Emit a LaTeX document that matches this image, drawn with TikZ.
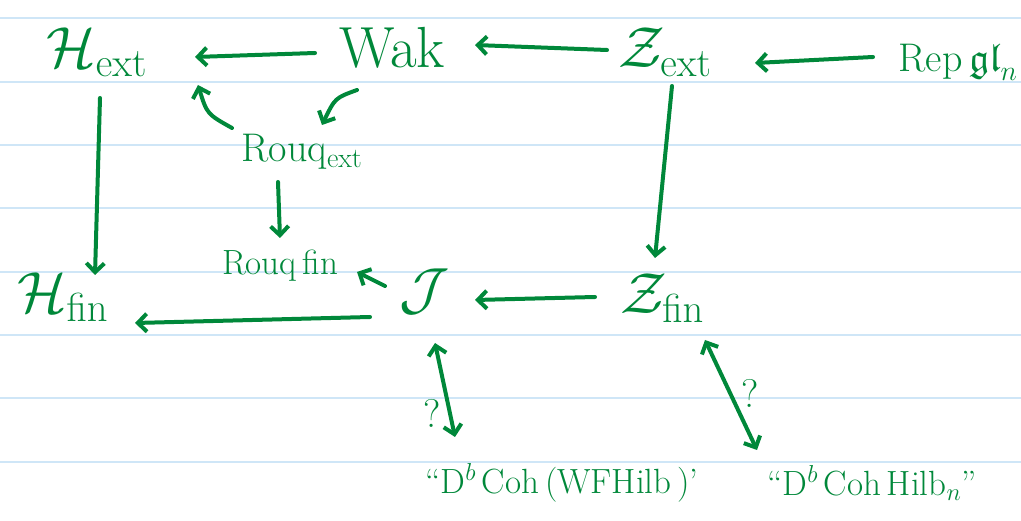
\RequirePackage{fix-cm}
\documentclass[tikz,border=0pt]{standalone}
\usepackage{amssymb}
\usetikzlibrary{arrows.meta,calc}
\definecolor{ink}{HTML}{00883A}
\definecolor{rule}{HTML}{CFE6F7}
\tikzset{
  lbl/.style={text=ink, inner sep=2pt},
  big/.style={lbl, font=\fontsize{58}{64}\selectfont},
  mid/.style={lbl, font=\fontsize{40}{44}\selectfont},
  small/.style={lbl, font=\fontsize{35}{40}\selectfont},
  arr/.style={draw=ink, line width=4pt, line cap=round, line join=round, -{Straight Barb[length=9pt,width=18pt,line width=4pt]}},
  barr/.style={draw=ink, line width=4pt, line cap=round, line join=round, {Straight Barb[length=9pt,width=18pt,line width=4pt]}-{Straight Barb[length=9pt,width=18pt,line width=4pt]}}
}
\begin{document}
\begin{tikzpicture}[x=1pt,y=-1pt]
\useasboundingbox (0,0) rectangle (1021,521);
\fill[white] (0,0) rectangle (1021,521);
\foreach \yy in {18,82,145,208,272,335,398,462}
  \draw[rule, line width=2pt] (0,\yy) -- (1021,\yy);

% nodes
\node[big] (Hext) at (97,52) {$\mathcal{H}_{\mathrm{ext}}$};
\node[big] (Wak) at (392,48) {Wak};
\node[big] (Zext) at (665,52) {$\mathcal{Z}_{\mathrm{ext}}$};
\node[mid] (Rep) at (958,62) {Rep\,$\mathfrak{gl}_n$};
\node[mid] (Rext) at (302,152) {Rouq$_{\mathrm{ext}}$};
\node[big] (Hfin) at (63,297) {$\mathcal{H}_{\mathrm{fin}}$};
\node[small] (Rfin) at (280,266) {Rouq\,fin};
\node[big] (J) at (425,292) {$\mathcal{J}$};
\node[big] (Zfin) at (662,298) {$\mathcal{Z}_{\mathrm{fin}}$};
\node[small] (D1) at (562,483) {``D$^b$\,Coh\,(WFHilb\,)'};
\node[small] (D2) at (872,483) {``D$^b$\,Coh\,Hilb$_n$''};
\node[mid] (q1) at (432,413) {?};
\node[mid] (q2) at (750,393) {?};

% horizontal arrows
\draw[arr] ($(Wak)+(-77,5)$) -- ($(Hext)+(98,5)$);
\draw[arr] ($(Zext)+(-58,-2)$) -- ($(Wak)+(83,-3)$);
\draw[arr] ($(Rep)+(-85,-5)$) -- ($(Zext)+(90,11)$);
\draw[arr] ($(J)+(-55,25)$) -- ($(Hfin)+(72,26)$);
\draw[arr] ($(Zfin)+(-67,-1)$) -- ($(J)+(50,8)$);
\draw[arr] ($(J)+(-40,-6)$) -- ($(Rfin)+(77,6)$);
% vertical arrows
\draw[arr] ($(Hext)+(3,46)$) -- ($(Hfin)+(32,-22)$);
\draw[arr] ($(Rext)+(-24,30)$) -- ($(Rfin)+(0,-28)$);
\draw[arr] ($(Zext)+(7,34)$) -- ($(Zfin)+(-7,-40)$);
% curved
\draw[arr] ($(Rext)+(-70,-24)$) .. controls (207,114) .. ($(Hext)+(101,33)$);
\draw[arr] ($(Wak)+(-35,42)$) .. controls (335,98) .. ($(Rext)+(20,-27)$);
% double arrows
\draw[barr] ($(J)+(10,51)$) -- ($(D1)+(-107,-46)$);
\draw[barr] ($(Zfin)+(43,42)$) -- ($(D2)+(-115,-33)$);
\end{tikzpicture}
\end{document}
